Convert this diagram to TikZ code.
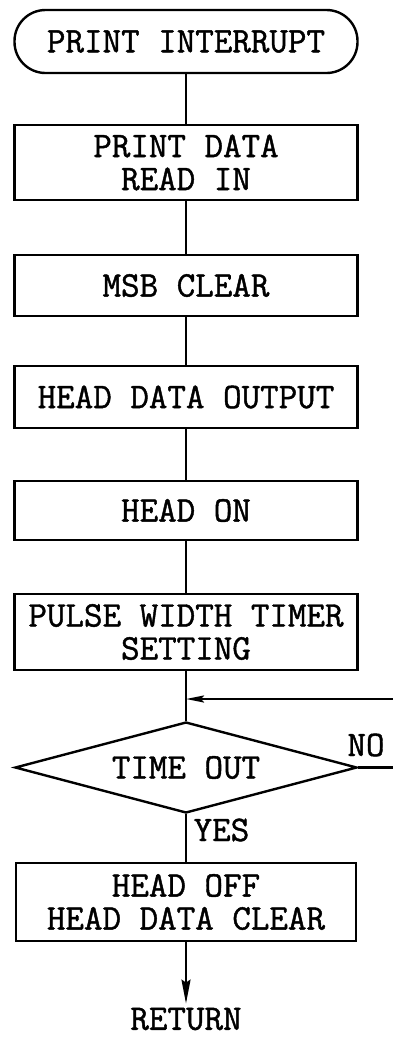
\documentclass[tikz,border=0pt]{standalone}
\usepackage{fontspec}
\newfontfamily\courfont{Latin Modern Mono}[AutoFakeBold=1.2]
\usetikzlibrary{shapes.geometric,arrows.meta}
\begin{document}
\begin{tikzpicture}[x=1pt,y=1pt,
  every node/.style={font=\courfont\bfseries\fontsize{36}{33}\selectfont, align=center},
  stepbox/.style={draw, line width=2.4pt, inner sep=0pt, minimum width=343pt},
  termbox/.style={draw, line width=2.4pt, rounded corners=31pt, inner sep=0pt, minimum width=343pt, minimum height=63pt},
  decbox/.style={draw, diamond, line width=2.4pt, inner sep=0pt, aspect=3.76, minimum width=342pt, minimum height=91pt},
  flow/.style={line width=2.4pt},
  lbl/.style={inner sep=0pt}]
\useasboundingbox (0,0) rectangle (392,-1037);
\node[termbox] (t) at (186,-41.5) {PRINT INTERRUPT};
\node[stepbox, minimum height=75pt] (b1) at (186,-162.5) {PRINT DATA\\READ IN};
\node[stepbox, minimum height=61pt] (b2) at (186,-285.5) {MSB CLEAR};
\node[stepbox, minimum height=62pt] (b3) at (186,-397) {HEAD DATA OUTPUT};
\node[stepbox, minimum height=59pt] (b4) at (186,-510.5) {HEAD ON};
\node[stepbox, minimum height=76pt] (b5) at (186,-632) {PULSE WIDTH TIMER\\SETTING};
\coordinate (j) at (186,-699);
\node[decbox] (d) at (186,-767.5) {TIME OUT};
\node[stepbox, minimum width=340pt, minimum height=78pt] (b6) at (186,-902) {HEAD OFF\\HEAD DATA CLEAR};
\node[lbl] (ret) at (186,-1019) {RETURN};
\node[lbl] (no) at (366,-745) {NO};
\node[lbl] (yes) at (221.5,-830) {YES};
\coordinate (fr) at (398,-767.5);
\draw[flow] (t) -- (b1);
\draw[flow] (b1) -- (b2);
\draw[flow] (b2) -- (b3);
\draw[flow] (b3) -- (b4);
\draw[flow] (b4) -- (b5);
\draw[flow] (b5) -- (d);
\draw[flow] (d) -- (b6);
\draw[flow, -{Stealth[length=18pt,width=7pt,inset=3pt]}] (d.east) -- (fr) |- (j);
\draw[flow, -{Stealth[length=24pt,width=9pt,inset=3pt]}] (b6.south) -- ([yshift=4pt]ret.north);
\end{tikzpicture}
\end{document}
